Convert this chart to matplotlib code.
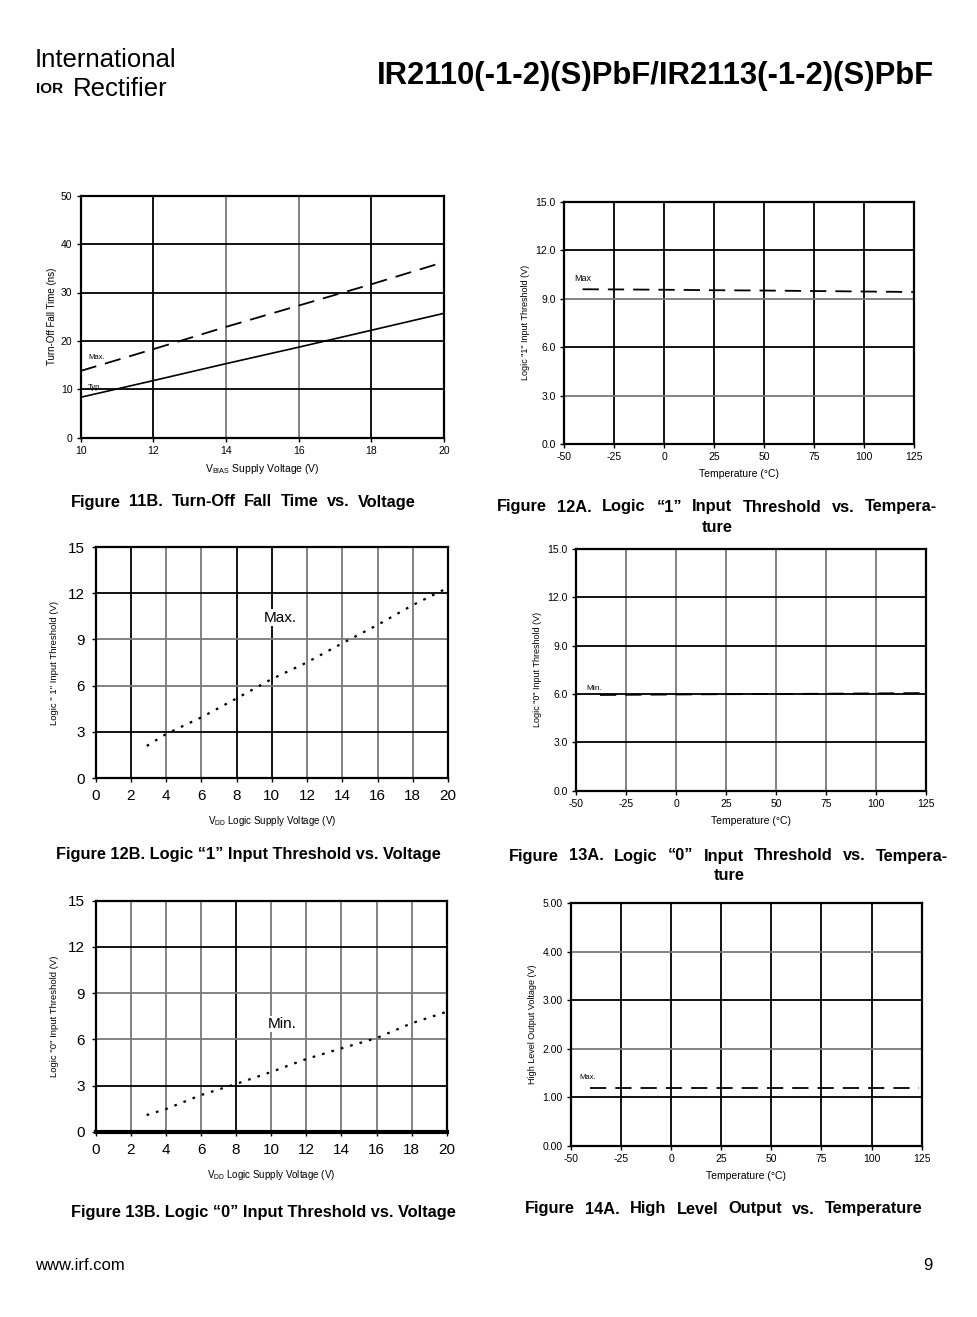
import matplotlib
matplotlib.use("Agg")
import matplotlib.pyplot as plt

plt.rcParams['font.family'] = ['Liberation Sans', 'DejaVu Sans']
plt.rcParams['mathtext.fontset'] = 'custom'
plt.rcParams['mathtext.rm'] = 'Liberation Sans'
plt.rcParams['mathtext.it'] = 'Liberation Sans'

W, H = 977, 1317

# ---------------- data ----------------
v11_x = [10, 12, 14, 16, 18, 20]
v11_typ = [8.35, 11.8, 15.3, 18.7, 22.2, 25.7]
v11_max = [13.8, 18.3, 22.9, 27.3, 31.7, 36.3]

t12a_x = [-40.7, -25, 0, 25, 50, 75, 100, 125]
t12a_max = [9.58, 9.57, 9.55, 9.52, 9.50, 9.47, 9.44, 9.41]

v12b_x = [2.9, 4, 6, 8, 10, 12, 14, 16, 18, 19.9]
v12b_max = [2.08, 2.86, 3.94, 5.17, 6.43, 7.51, 8.75, 9.94, 11.23, 12.3]

t13a_x = [-38, -25, 0, 25, 50, 75, 100, 125]
t13a_min = [5.94, 5.95, 5.97, 5.99, 6.0, 6.02, 6.04, 6.06]

v13b_x = [2.9, 4, 6, 8, 10, 12, 14, 16, 18, 19.9]
v13b_min = [1.08, 1.47, 2.38, 3.1, 3.88, 4.72, 5.41, 6.08, 7.04, 7.75]

t14a_x = [-40.5, 0, 50, 100, 123.8]
t14a_max = [1.2, 1.2, 1.2, 1.2, 1.2]

temp_ticks = [-50, -25, 0, 25, 50, 75, 100, 125]
v11_ticks = [10, 12, 14, 16, 18, 20]
vdd_ticks = [0, 2, 4, 6, 8, 10, 12, 14, 16, 18, 20]
thr_ticks = [0, 3, 6, 9, 12, 15]
fall_ticks = [0, 10, 20, 30, 40, 50]
vo_ticks = [0, 1, 2, 3, 4, 5]

fig = plt.figure(figsize=(W / 100, H / 100), dpi=100)
renderer = fig.canvas.get_renderer()

def px_axes(x0, y0, x1, y1):
    return fig.add_axes([x0 / W, 1 - y1 / H, (x1 - x0) / W, (y1 - y0) / H])

def ftext(x, y, s, **kw):
    return fig.text(x / W, 1 - y / H, s, **kw)

def justified(x0, x1, yc, s, **kw):
    """Place words of s so the line spans x0..x1 (justified), common baseline."""
    yb = yc + 4.5
    words = s.split(' ')
    arts = [ftext(0, yb, w, ha='left', va='baseline', **kw) for w in words]
    widths = [a.get_window_extent(renderer).width for a in arts]
    gap = ((x1 - x0) - sum(widths)) / (len(words) - 1)
    x = x0
    for a, wd in zip(arts, widths):
        a.set_x(x / W)
        x += wd + gap

def centered(xc, yc, s, **kw):
    return ftext(xc, yc + 4.5, s, ha='center', va='baseline', **kw)

BLK = '#000000'
GRY = '#7a7a7a'

def style(ax, xlim, ylim, xticks, yticks, xfmt, yfmt, tsize, vcols, hcols, pad=3):
    ax.set_xlim(*xlim)
    ax.set_ylim(*ylim)
    ax.set_xticks(xticks)
    ax.set_yticks(yticks)
    ax.set_xticklabels([xfmt(v) for v in xticks], fontsize=tsize)
    ax.set_yticklabels([yfmt(v) for v in yticks], fontsize=tsize)
    ax.tick_params(direction='out', length=3, width=1, pad=pad)
    for s in ax.spines.values():
        s.set_linewidth(1.6)
        s.set_color('black')
    for v, c in zip(xticks[1:-1], vcols):
        ax.axvline(v, color=c, lw=1.3, zorder=1)
    for v, c in zip(yticks[1:-1], hcols):
        ax.axhline(v, color=c, lw=1.3, zorder=1)

# ---- Figure 11B ----
ax1 = px_axes(80.7, 195.7, 444, 437.7)
style(ax1, (10, 20), (0, 50), v11_ticks, fall_ticks, lambda v: f"{v}", lambda v: f"{v}", 7.5,
      [BLK, GRY, GRY, BLK], [BLK, BLK, BLK, BLK])
ax1.plot(v11_x, v11_max, color='black', lw=1.3, dashes=(9, 5), zorder=3)
ax1.plot(v11_x, v11_typ, color='black', lw=1.2, zorder=3)
ax1.text(10.2, 16.6, "Max.", fontsize=5.5, va='center')
ax1.text(10.2, 10.4, "Typ.", fontsize=5.5, va='center')
ax1.set_ylabel("Turn-Off Fall Time (ns)", fontsize=7, labelpad=3)
ax1.set_xlabel(r"V$_{\mathrm{BIAS}}$ Supply Voltage (V)", fontsize=7.5, labelpad=4)

# ---- Figure 12A ----
ax2 = px_axes(564, 201.7, 914, 444)
style(ax2, (-50, 125), (0, 15), temp_ticks, thr_ticks, lambda v: f"{v}", lambda v: f"{v:.1f}", 7.5,
      [BLK] * 6, [GRY, BLK, GRY, BLK])
ax2.plot(t12a_x, t12a_max, color='black', lw=1.3, dashes=(9, 5), zorder=3)
ax2.text(-45, 10.25, "Max", fontsize=6.5, va='center')
ax2.set_ylabel('Logic "1" Input Threshold (V)', fontsize=6.5, labelpad=4)
ax2.set_xlabel("Temperature (°C)", fontsize=7.5, labelpad=5)

# ---- Figure 12B ----
ax3 = px_axes(95.7, 547, 448, 778)
style(ax3, (0, 20), (0, 15), vdd_ticks, thr_ticks, lambda v: f"{v}", lambda v: f"{v}", 11,
      [BLK, GRY, GRY, BLK, BLK, GRY, GRY, GRY, GRY], [BLK, GRY, GRY, BLK], pad=5)
ax3.plot(v12b_x, v12b_max, color='black', lw=1.6, dashes=(1.2, 3.2), zorder=3)
ax3.text(10.5, 10.4, "Max.", fontsize=11, ha='center', va='center', zorder=4,
         bbox=dict(facecolor='white', edgecolor='none', pad=1))
ax3.set_ylabel('Logic " 1" Input Threshold (V)', fontsize=6.8, labelpad=6)
ax3.set_xlabel(r"V$_{\mathrm{DD}}$ Logic Supply Voltage (V)", fontsize=7, labelpad=8)

# ---- Figure 13A ----
ax4 = px_axes(576, 549, 926, 790.7)
style(ax4, (-50, 125), (0, 15), temp_ticks, thr_ticks, lambda v: f"{v}", lambda v: f"{v:.1f}", 7.5,
      [GRY] * 6, [BLK, BLK, BLK, BLK])
ax4.plot(t13a_x, t13a_min, color='black', lw=1.3, dashes=(9, 5), zorder=3)
ax4.text(-45, 6.35, "Min.", fontsize=6, va='center')
ax4.set_ylabel('Logic "0" Input Threshold (V)', fontsize=6.5, labelpad=4)
ax4.set_xlabel("Temperature (°C)", fontsize=7.5, labelpad=5)

# ---- Figure 13B ----
ax5 = px_axes(95.7, 900.7, 446.7, 1131.7)
style(ax5, (0, 20), (0, 15), vdd_ticks, thr_ticks, lambda v: f"{v}", lambda v: f"{v}", 11,
      [GRY, GRY, GRY, BLK, GRY, GRY, GRY, GRY, GRY], [BLK, GRY, GRY, BLK], pad=5)
ax5.spines['bottom'].set_linewidth(3)
ax5.plot(v13b_x, v13b_min, color='black', lw=1.6, dashes=(1.2, 3.2), zorder=3)
ax5.text(10.6, 7.0, "Min.", fontsize=11, ha='center', va='center', zorder=4,
         bbox=dict(facecolor='white', edgecolor='none', pad=1))
ax5.set_ylabel('Logic "0" Input Threshold (V)', fontsize=6.8, labelpad=6)
ax5.set_xlabel(r"V$_{\mathrm{DD}}$ Logic Supply Voltage (V)", fontsize=7, labelpad=8)

# ---- Figure 14A ----
ax6 = px_axes(571, 903.3, 921.7, 1145.7)
style(ax6, (-50, 125), (0, 5), temp_ticks, vo_ticks, lambda v: f"{v}", lambda v: f"{v:.2f}", 7.5,
      [BLK] * 6, [BLK, GRY, BLK, GRY])
ax6.plot(t14a_x, t14a_max, color='black', lw=1.3, dashes=(9, 5), zorder=3)
ax6.text(-46, 1.4, "Max.", fontsize=5.5, va='center')
ax6.set_ylabel("High Level Output Voltage (V)", fontsize=6.5, labelpad=4)
ax6.set_xlabel("Temperature (°C)", fontsize=7.5, labelpad=5)

# ---- captions ----
capkw = dict(fontsize=11.8, fontweight='bold')
justified(70.5, 416, 502, "Figure 11B. Turn-Off Fall Time vs. Voltage", **capkw)
justified(497, 937, 507, "Figure 12A. Logic \u201c1\u201d Input Threshold vs. Tempera-", **capkw)
centered(717, 527, "ture", **capkw)
centered(248, 854, "Figure 12B. Logic \u201c1\u201d Input Threshold vs. Voltage", **capkw)
justified(509, 948, 856, "Figure 13A. Logic \u201c0\u201d Input Threshold vs. Tempera-", **capkw)
centered(729, 876, "ture", **capkw)
centered(263, 1212, "Figure 13B. Logic \u201c0\u201d Input Threshold vs. Voltage", **capkw)
justified(525, 923, 1209, "Figure 14A. High Level Output vs. Temperature", **capkw)

# ---- header / footer ----
ftext(35, 60, "International", fontsize=18.5, fontweight='light', ha='left', va='center')
ftext(36, 89, "IOR", fontsize=11, fontweight='bold', ha='left', va='center')
ftext(73, 89, "Rectifier", fontsize=18.5, fontweight='light', ha='left', va='center')
ftext(655.5, 76, "IR2110(-1-2)(S)PbF/IR2113(-1-2)(S)PbF", fontsize=22.3, fontweight='bold',
      ha='center', va='center')
ftext(35, 1265, "www.irf.com", fontsize=12, ha='left', va='center')
ftext(933, 1265, "9", fontsize=12, ha='right', va='center')

fig.savefig("out.png", dpi=100)
